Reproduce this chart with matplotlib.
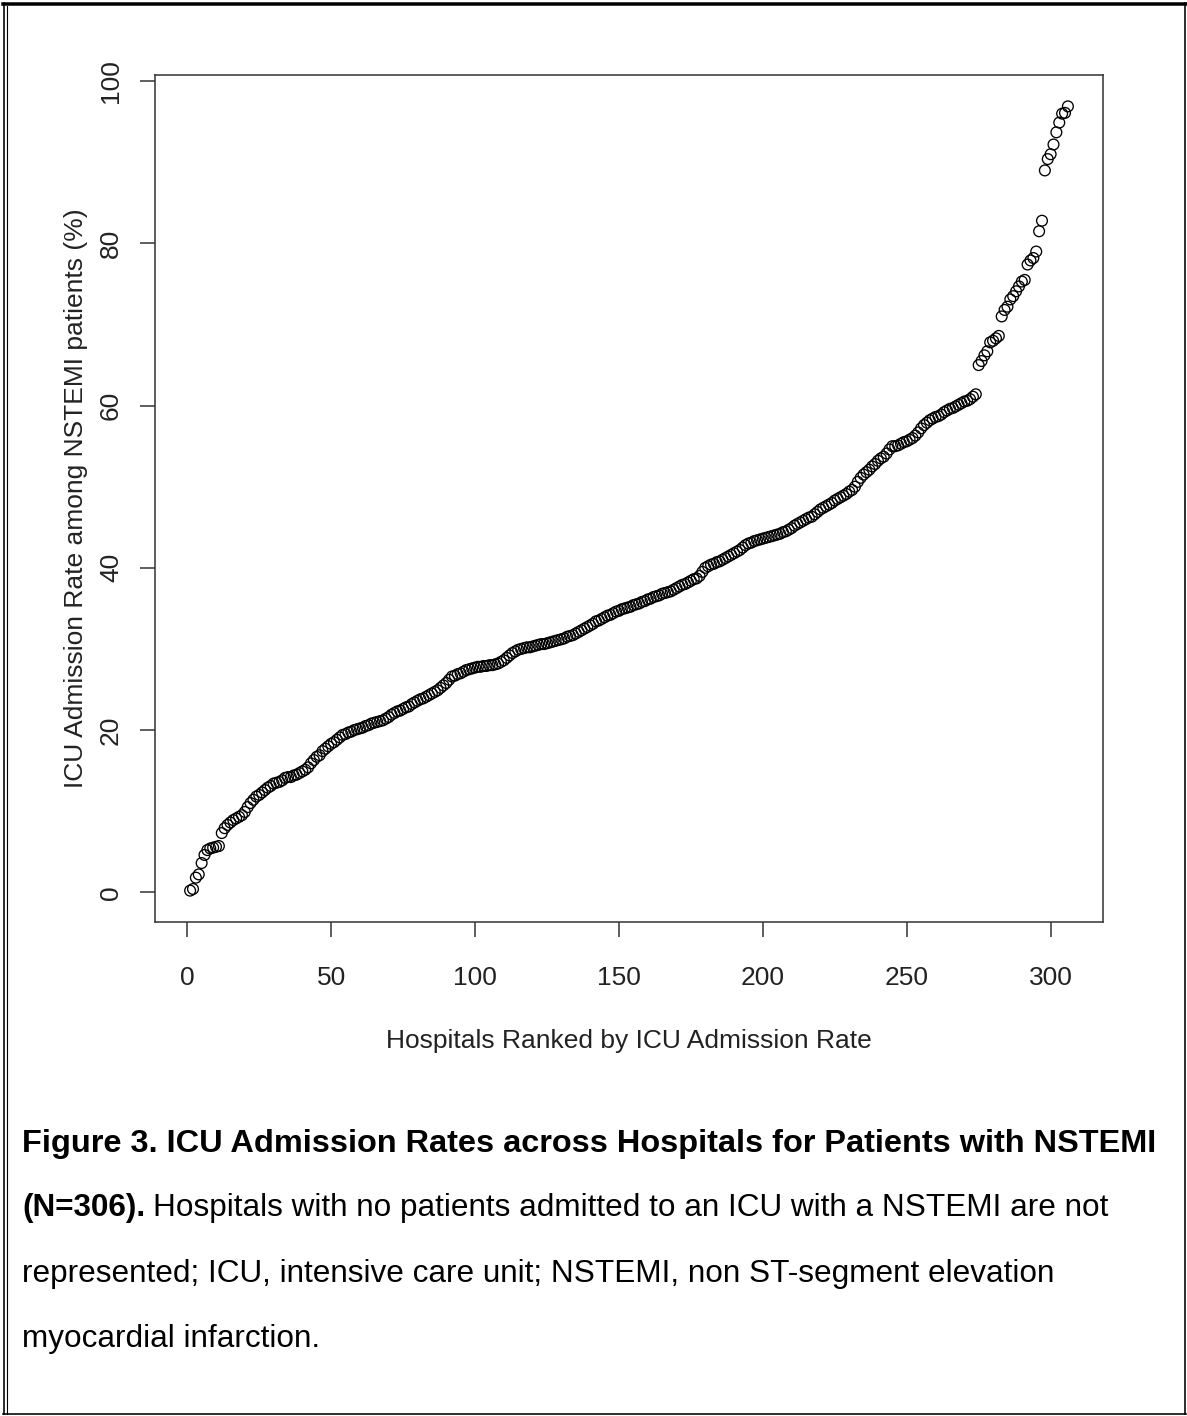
import matplotlib
matplotlib.use('Agg')
import matplotlib.pyplot as plt
from matplotlib.lines import Line2D
import numpy as np

W, H = 1187, 1416
DPI = 100

# ICU admission rate (%) per hospital in rank order
rates_1_60 = [0.2, 0.4, 1.8, 2.2, 3.6, 4.6, 5.2, 5.4, 5.5, 5.6,
              5.7, 7.3, 7.9, 8.3, 8.6, 8.9, 9.1, 9.3, 9.5, 9.9,
              10.5, 11.0, 11.4, 11.8, 12.0, 12.3, 12.6, 12.9, 13.1, 13.4,
              13.5, 13.6, 13.8, 14.1, 14.2, 14.2, 14.4, 14.5, 14.7, 14.9,
              15.1, 15.4, 15.9, 16.3, 16.7, 16.9, 17.4, 17.7, 18.0, 18.3,
              18.5, 18.8, 19.1, 19.4, 19.5, 19.7, 19.8, 20.0, 20.1, 20.2]
rates_61_120 = [20.3, 20.5, 20.6, 20.8, 20.9, 21.0, 21.1, 21.2, 21.4, 21.6,
                21.9, 22.1, 22.3, 22.4, 22.6, 22.8, 22.9, 23.2, 23.4, 23.6,
                23.8, 23.9, 24.1, 24.3, 24.5, 24.7, 24.9, 25.2, 25.5, 25.8,
                26.2, 26.6, 26.7, 26.9, 27.0, 27.2, 27.4, 27.5, 27.6, 27.7,
                27.8, 27.8, 27.9, 27.9, 28.0, 28.0, 28.1, 28.2, 28.4, 28.6,
                28.9, 29.2, 29.5, 29.7, 29.9, 30.0, 30.1, 30.2, 30.2, 30.3]
rates_121_180 = [30.4, 30.5, 30.6, 30.6, 30.7, 30.8, 30.9, 31.0, 31.1, 31.2,
                 31.3, 31.5, 31.6, 31.7, 31.9, 32.1, 32.3, 32.5, 32.7, 32.9,
                 33.1, 33.4, 33.5, 33.7, 33.9, 34.1, 34.2, 34.4, 34.6, 34.7,
                 34.9, 35.0, 35.1, 35.2, 35.4, 35.5, 35.6, 35.8, 35.9, 36.1,
                 36.2, 36.4, 36.5, 36.6, 36.8, 36.9, 37.0, 37.1, 37.3, 37.5,
                 37.7, 37.9, 38.0, 38.2, 38.4, 38.6, 38.7, 39.0, 39.5, 40.0]
rates_181_240 = [40.2, 40.4, 40.5, 40.7, 40.8, 41.0, 41.2, 41.4, 41.6, 41.8,
                 42.0, 42.2, 42.5, 42.8, 43.0, 43.1, 43.3, 43.4, 43.5, 43.6,
                 43.7, 43.8, 43.9, 44.0, 44.1, 44.2, 44.4, 44.5, 44.7, 44.9,
                 45.2, 45.4, 45.6, 45.8, 46.0, 46.2, 46.3, 46.6, 46.9, 47.2,
                 47.4, 47.6, 47.8, 48.0, 48.3, 48.5, 48.7, 48.9, 49.1, 49.4,
                 49.6, 50.0, 50.6, 51.1, 51.5, 51.8, 52.1, 52.5, 52.8, 53.2]
rates_241_274 = [53.5, 53.7, 54.1, 54.6, 55.0, 55.0, 55.1, 55.3, 55.5, 55.6,
                 55.8, 56.0, 56.3, 56.7, 57.2, 57.6, 57.9, 58.2, 58.4, 58.6,
                 58.7, 58.9, 59.2, 59.4, 59.6, 59.7, 59.9, 60.1, 60.3, 60.5,
                 60.6, 60.8, 61.1, 61.4]
rates_275_306 = [65.0, 65.5, 66.2, 66.7, 67.8, 68.0, 68.3, 68.6, 71.0, 71.8,
                 72.2, 73.1, 73.5, 74.1, 74.7, 75.3, 75.5, 77.4, 77.9, 78.2,
                 79.0, 81.5, 82.8, 89.0, 90.4, 91.0, 92.2, 93.7, 94.9, 96.0,
                 96.1, 96.9]

x_ticks = [0, 50, 100, 150, 200, 250, 300]
y_ticks = [0, 20, 40, 60, 80, 100]

x_label = "Hospitals Ranked by ICU Admission Rate"
y_label = "ICU Admission Rate among NSTEMI patients (%)"
caption_bold_1 = "Figure 3. ICU Admission Rates across Hospitals for Patients with NSTEMI"
caption_bold_2 = "(N=306)."
caption_rest = ["Hospitals with no patients admitted to an ICU with a NSTEMI are not",
                "represented; ICU, intensive care unit; NSTEMI, non ST-segment elevation",
                "myocardial infarction."]

rates = np.array(rates_1_60 + rates_61_120 + rates_121_180 +
                 rates_181_240 + rates_241_274 + rates_275_306)
ranks = np.arange(1, len(rates) + 1)

plt.rcParams['font.family'] = ['Liberation Sans', 'DejaVu Sans']


def fx(px):
    return px / W


def fy(py):
    return 1 - py / H


fig = plt.figure(figsize=(W / DPI, H / DPI), dpi=DPI)
ax = fig.add_axes([fx(155), fy(922), fx(1103) - fx(155), fy(75) - fy(922)])

ax.scatter(ranks, rates, s=60, facecolors='none', edgecolors='black', linewidths=0.95)

# R-style 4% padding around the data range
xr = ranks.max() - ranks.min()
yr = rates.max() - rates.min()
ax.set_xlim(ranks.min() - 0.04 * xr, ranks.max() + 0.04 * xr)
ax.set_ylim(rates.min() - 0.04 * yr, rates.max() + 0.04 * yr)

ax.set_xticks(x_ticks)
ax.set_yticks(y_ticks)
ax.set_xticklabels([str(t) for t in x_ticks])
ax.set_yticklabels([str(t) for t in y_ticks], rotation=90, va='center')
ax.tick_params(axis='both', direction='out', length=11, width=1.1, labelsize=19,
               labelcolor='#222222', color='#333333')
ax.tick_params(axis='x', pad=20.5)
ax.tick_params(axis='y', pad=12)
for sp in ax.spines.values():
    sp.set_linewidth(1.1)
    sp.set_color('#333333')

fig.text(fx(629), fy(1041), x_label, fontsize=19, color='#222222', ha='center', va='center')
fig.text(fx(76), fy(498), y_label, fontsize=19, color='#222222', rotation=90,
         ha='center', va='center')

# caption
cap_fs = 22.7
cap_x = fx(22)
base = [1152, 1216, 1282, 1347]
fig.text(cap_x, fy(base[0]), caption_bold_1, fontsize=23.4, fontweight='bold',
         va='baseline', ha='left')
t_bold = fig.text(cap_x, fy(base[1]), caption_bold_2, fontsize=cap_fs, fontweight='bold',
                  va='baseline', ha='left')
fig.canvas.draw()
bb = t_bold.get_window_extent()
fig.text(bb.x1 / W + fx(8), fy(base[1]), caption_rest[0], fontsize=cap_fs,
         va='baseline', ha='left')
fig.text(cap_x, fy(base[2]), caption_rest[1], fontsize=cap_fs, va='baseline', ha='left')
fig.text(cap_x, fy(base[3]), caption_rest[2], fontsize=cap_fs, va='baseline', ha='left')

# page frame (double rule on the left)
frame = [((3.3, 1186), (4.2, 4.2), 3.5),
         ((4.2, 4.2), (2.5, 1414), 1.6),
         ((7.3, 7.3), (6, 1414), 1.1),
         ((1185.3, 1185.3), (2.5, 1414), 1.6),
         ((3.3, 1186), (1413.5, 1413.5), 1.6)]
for xs, ys, lw in frame:
    fig.add_artist(Line2D([fx(v) for v in xs], [fy(v) for v in ys], color='black',
                          linewidth=lw * 0.72, transform=fig.transFigure))

fig.savefig('out.png', dpi=DPI)
